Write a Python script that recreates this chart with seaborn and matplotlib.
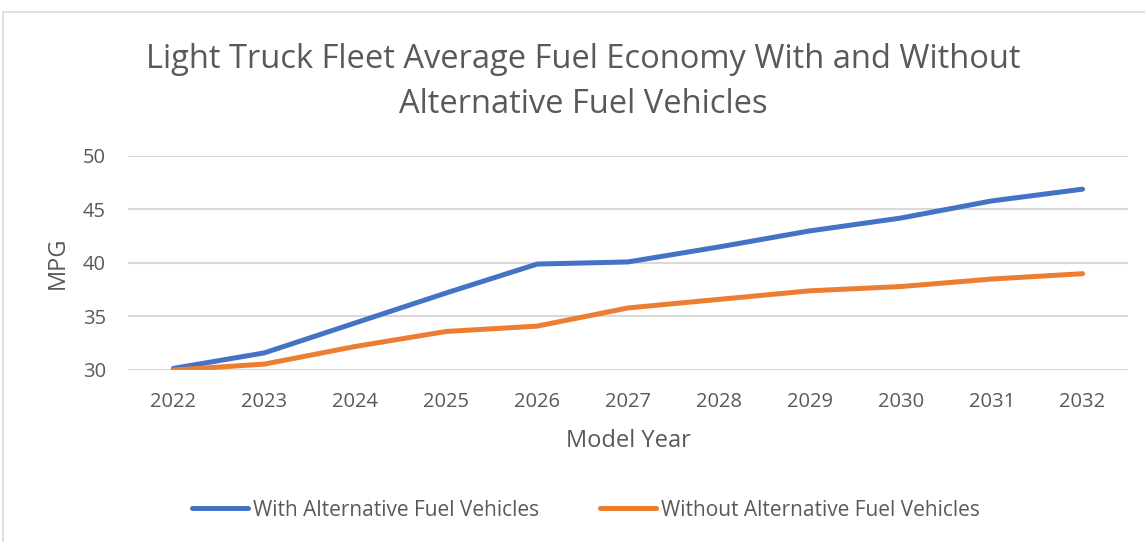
import pandas as pd
import numpy as np
import seaborn as sns
from matplotlib import pyplot as plt
from matplotlib.patches import Rectangle

years = [2022, 2023, 2024, 2025, 2026, 2027, 2028, 2029, 2030, 2031, 2032]
with_afv = [30.15, 31.6, 34.4, 37.2, 39.9, 40.1, 41.5, 43.0, 44.2, 45.8, 46.9]
without_afv = [30.0, 30.55, 32.2, 33.6, 34.1, 35.8, 36.6, 37.4, 37.8, 38.5, 39.0]
series_names = ['With Alternative Fuel Vehicles', 'Without Alternative Fuel Vehicles']

df = pd.DataFrame({
    'Model Year': years * 2,
    'MPG': with_afv + without_afv,
    'series': [series_names[0]] * len(years) + [series_names[1]] * len(years),
})

sns.set_theme(style='white')
plt.rcParams['font.family'] = ['Open Sans', 'DejaVu Sans']
text_color = '#595959'
colors = ['#4472C4', '#ED7D31']

fig = plt.figure(figsize=(11.45, 5.42), dpi=100)
ax = fig.add_axes([128 / 1145, 1 - 370 / 542, 1000 / 1145, 214 / 542])

sns.lineplot(data=df, x='Model Year', y='MPG', hue='series',
             palette=colors, linewidth=3.6, ax=ax, legend=False)
for line in ax.lines:
    line.set_solid_capstyle('round')

ax.set_xlim(2021.5, 2032.5)
ax.set_ylim(30, 50)
ax.set_xticks(years)
ax.set_yticks([30, 35, 40, 45, 50])
ax.tick_params(axis='both', colors=text_color, labelsize=14.5, length=0)
ax.tick_params(axis='x', pad=16)
ax.tick_params(axis='y', pad=16)
ax.yaxis.grid(True, color='#D9D9D9', linewidth=1.5)
ax.set_axisbelow(True)
for s in ax.spines.values():
    s.set_visible(False)

ax.set_xlabel('Model Year', fontsize=17, color=text_color, labelpad=12)
ax.set_ylabel('MPG', fontsize=17, color=text_color, labelpad=9)

fig.text(583 / 1145, 1 - 82 / 542,
         'Light Truck Fleet Average Fuel Economy With and Without\nAlternative Fuel Vehicles',
         ha='center', va='center', fontsize=23.5, color=text_color, linespacing=1.45)

handles = [plt.Line2D([], [], color=c, linewidth=3.6, solid_capstyle='round')
           for c in colors]
fig.legend(handles, series_names, loc='center', bbox_to_anchor=(586 / 1145, 1 - 510 / 542),
           ncol=2, frameon=False, fontsize=15, labelcolor=text_color,
           handlelength=2.7, handletextpad=0.25, columnspacing=2.9)

fig.patches.append(Rectangle((3 / 1145, -0.01), 1.1, 1 - 12 / 542 + 0.01,
                             transform=fig.transFigure, fill=False,
                             edgecolor='#D9D9D9', linewidth=1.2))

fig.savefig('out.png', dpi=100)
